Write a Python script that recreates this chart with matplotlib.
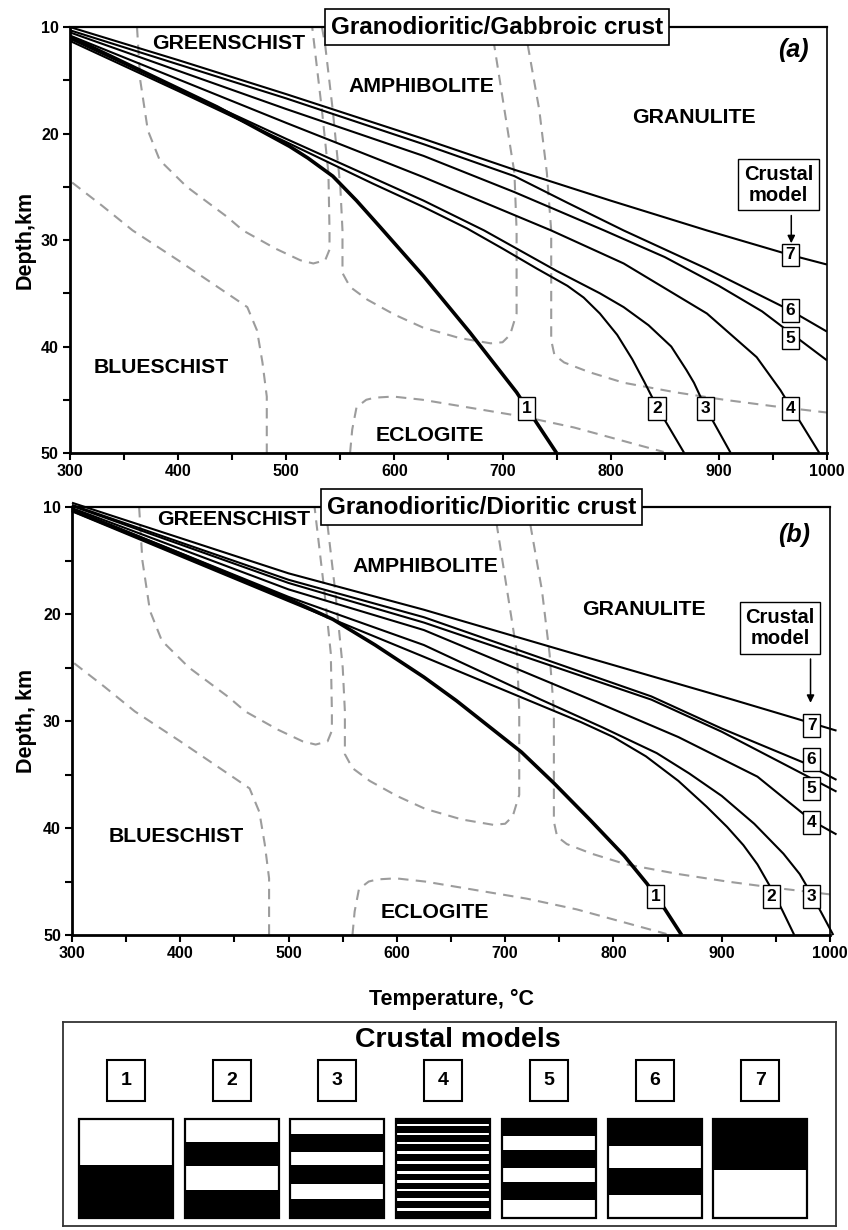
"""
Geotherms for seven crustal models plotted over metamorphic facies fields,
two crust compositions (a, b), plus the crustal model legend below.
"""
import matplotlib
matplotlib.use("Agg")
import matplotlib.pyplot as plt
from matplotlib.patches import Rectangle

plt.rcParams["font.family"] = ["Liberation Sans", "DejaVu Sans"]
plt.rcParams["font.weight"] = "bold"

# --- facies boundaries (T in degC, depth in km), same in both panels --------
GREENSCHIST_T = [362, 365, 372, 383, 408, 445, 460, 490, 513, 525, 536, 540, 540, 539, 533, 524]
GREENSCHIST_D = [10.0, 15.0, 19.7, 22.5, 25.0, 27.8, 29.1, 30.8, 31.9, 32.2, 31.9, 30.9, 29.1, 23.7, 17.8, 10.0]

AMPHIBOLITE_T = [533, 536, 543, 550, 552, 552, 559, 575, 600, 626, 660, 689, 700, 707, 713, 713, 711, 692, 690]
AMPHIBOLITE_D = [10.0, 11.7, 17.8, 25.0, 29.1, 33.1, 34.4, 35.6, 37.0, 38.2, 39.2, 39.7, 39.6, 38.9, 36.9, 29.1, 23.7, 11.5, 10.0]

GRANULITE_T = [721, 723, 734, 741, 745, 745, 748, 757, 780, 812, 860, 905, 950, 1000]
GRANULITE_D = [10.0, 11.5, 17.8, 23.7, 29.1, 39.4, 40.8, 41.5, 42.4, 43.4, 44.3, 45.0, 45.6, 46.2]

ECLOGITE_T = [559, 561, 565, 574, 582, 599, 626, 720, 766, 849]
ECLOGITE_D = [50.0, 47.8, 45.7, 45.0, 44.8, 44.7, 45.0, 46.6, 47.6, 49.9]

BLUESCHIST_T = [302, 330, 358, 400, 451, 464, 473, 478, 482, 482]
BLUESCHIST_D = [24.6, 26.8, 29.1, 31.9, 35.4, 36.3, 38.5, 41.5, 44.7, 50.0]

# --- geotherms, panel (a): granodioritic/gabbroic crust ---------------------
A1_T = [300, 370, 436, 503, 520, 543, 565, 587, 627, 670, 713, 722, 750]
A1_D = [10.9, 14.3, 17.5, 21.2, 22.3, 24.0, 26.3, 28.8, 33.4, 38.7, 44.3, 45.7, 50.0]
A2_T = [300, 400, 500, 580, 627, 667, 700, 732, 760, 775, 790, 806, 820, 831, 843, 868]
A2_D = [11.3, 16.0, 20.8, 24.7, 26.9, 28.9, 30.8, 32.7, 34.3, 35.4, 36.9, 38.9, 41.2, 43.3, 45.7, 50.0]
A3_T = [300, 400, 500, 627, 683, 750, 790, 812, 835, 856, 870, 877, 888, 911]
A3_D = [11.1, 15.8, 20.5, 26.3, 29.1, 32.9, 35.0, 36.3, 38.0, 40.0, 42.2, 43.4, 45.8, 50.0]
A4_T = [300, 400, 500, 627, 745, 812, 889, 935, 957, 966, 976, 993]
A4_D = [10.8, 14.9, 19.0, 24.1, 29.1, 32.2, 36.9, 41.0, 44.1, 45.6, 47.2, 50.0]
A5_T = [300, 400, 500, 627, 711, 794, 850, 900, 940, 966, 1000]
A5_D = [10.5, 14.1, 17.7, 22.1, 25.5, 29.1, 31.6, 34.3, 36.7, 38.7, 41.3]
A6_T = [300, 400, 500, 627, 711, 760, 812, 889, 966, 1000]
A6_D = [10.3, 13.5, 16.7, 21.0, 24.0, 26.5, 29.1, 32.7, 36.6, 38.6]
A7_T = [300, 400, 500, 627, 711, 800, 889, 966, 1000]
A7_D = [10.0, 13.1, 16.3, 20.5, 23.4, 26.3, 29.1, 31.4, 32.3]

# model number boxes sitting on the curves, panel (a)
A_LABEL_T = [722, 843, 888, 966, 966, 966, 966]
A_LABEL_D = [45.8, 45.8, 45.8, 45.8, 39.2, 36.6, 31.4]

# --- geotherms, panel (b): granodioritic/dioritic crust ---------------------
B1_T = [300, 400, 500, 541, 580, 625, 655, 715, 745, 779, 810, 831, 847, 863]
B1_D = [10.3, 14.4, 18.6, 20.5, 22.9, 25.9, 28.1, 32.9, 35.8, 39.3, 42.6, 45.2, 47.5, 50.0]
B2_T = [300, 400, 500, 625, 720, 770, 800, 830, 860, 886, 905, 920, 933, 946, 956, 967]
B2_D = [10.4, 14.6, 18.8, 24.0, 28.0, 30.1, 31.5, 33.3, 35.6, 38.0, 39.9, 41.6, 43.4, 45.7, 47.7, 50.0]
B3_T = [300, 400, 500, 625, 733, 790, 840, 870, 900, 930, 957, 972, 983, 993, 1003]
B3_D = [10.2, 14.3, 18.4, 22.9, 28.0, 30.6, 33.0, 34.9, 37.0, 39.6, 42.4, 44.3, 46.2, 48.1, 50.0]
B4_T = [300, 400, 500, 625, 779, 860, 933, 983, 1006]
B4_D = [10.1, 13.9, 17.7, 21.5, 28.0, 31.5, 35.2, 39.3, 40.6]
B5_T = [300, 400, 500, 625, 835, 900, 976, 1006]
B5_D = [9.9, 13.5, 17.1, 20.8, 28.0, 31.0, 35.0, 36.6]
B6_T = [300, 400, 500, 625, 835, 900, 976, 1006]
B6_D = [9.8, 13.3, 16.8, 20.3, 27.7, 30.7, 33.9, 35.5]
B7_T = [300, 400, 500, 625, 760, 910, 983, 1006]
B7_D = [9.6, 12.9, 16.2, 19.6, 23.6, 28.0, 30.2, 30.9]

B_LABEL_T = [839, 946, 983, 983, 983, 983, 983]
B_LABEL_D = [46.4, 46.4, 46.4, 39.5, 36.3, 33.6, 30.4]

# --- crustal model legend: layer boundaries (fraction of column, top=0) -----
MODEL_NAMES = ["1", "2", "3", "4", "5", "6", "7"]
MODEL_EDGES = [
    [0, 0.47, 1],
    [0, 0.23, 0.48, 0.72, 1],
    [0, 0.155, 0.33, 0.47, 0.655, 0.805, 1],
    [0, 0.048, 0.072, 0.142, 0.166, 0.233, 0.257, 0.327, 0.351, 0.428, 0.452,
     0.528, 0.552, 0.619, 0.643, 0.703, 0.727, 0.803, 0.827, 0.904, 0.928, 1],
    [0, 0.17, 0.31, 0.50, 0.64, 0.82, 1],
    [0, 0.27, 0.50, 0.77, 1],
    [0, 0.52, 1],
]
MODEL_TOP_BLACK = [False, False, False, True, True, True, True]

DASH_COLOR = "#9c9c9c"


def style_axes(ax, ylabel):
    ax.set_xlim(300, 1000)
    ax.set_ylim(50, 10)
    ax.set_xticks(range(300, 1001, 100))
    ax.set_xticks(range(350, 1000, 100), minor=True)
    ax.set_yticks(range(10, 51, 10))
    ax.set_yticks(range(15, 50, 10), minor=True)
    ax.tick_params(which="both", direction="out", length=5, width=1.5,
                   labelsize=11.5, pad=3)
    ax.spines["left"].set_linewidth(2.0)
    ax.spines["bottom"].set_linewidth(2.0)
    ax.spines["top"].set_linewidth(1.6)
    ax.spines["right"].set_linewidth(1.2)
    ax.set_ylabel(ylabel, fontsize=15.5, fontweight="bold", labelpad=4)


def draw_facies(ax):
    kw = dict(color=DASH_COLOR, lw=1.5, ls=(0, (5, 3.5)), zorder=1)
    ax.plot(GREENSCHIST_T, GREENSCHIST_D, **kw)
    ax.plot(AMPHIBOLITE_T, AMPHIBOLITE_D, **kw)
    ax.plot(GRANULITE_T, GRANULITE_D, **kw)
    ax.plot(ECLOGITE_T, ECLOGITE_D, **kw)
    ax.plot(BLUESCHIST_T, BLUESCHIST_D, **kw)


def draw_geotherms(ax, curves, lab_t, lab_d, clip):
    for i, (t, d) in enumerate(curves):
        lw = 2.6 if i == 0 else 1.5
        ax.plot(t, d, color="black", lw=lw, zorder=3, clip_on=clip,
                solid_capstyle="butt", solid_joinstyle="round")
    for i in range(len(lab_t)):
        ax.text(lab_t[i], lab_d[i], MODEL_NAMES[i], ha="center", va="center",
                fontsize=12.5, zorder=6,
                bbox=dict(boxstyle="square,pad=0.22", fc="white", ec="black", lw=1.0))


def draw_labels(ax, pos, title, title_x, tag, box_pos, arrow_x, arrow_d):
    tkw = dict(fontsize=15.3, fontweight="bold", ha="center", va="center", zorder=4)
    ax.text(*pos["GREENSCHIST"], "GREENSCHIST", **tkw)
    ax.text(*pos["AMPHIBOLITE"], "AMPHIBOLITE", **tkw)
    ax.text(*pos["GRANULITE"], "GRANULITE", **tkw)
    ax.text(*pos["BLUESCHIST"], "BLUESCHIST", **tkw)
    ax.text(*pos["ECLOGITE"], "ECLOGITE", **tkw)
    ax.text(*pos["tag"], tag, fontsize=18, fontweight="bold", style="italic",
            ha="center", va="center")
    ax.text(title_x, 1.0, title, transform=ax.transAxes, fontsize=17.5,
            ha="center", va="center", zorder=10, clip_on=False,
            bbox=dict(boxstyle="square,pad=0.25", fc="white", ec="black", lw=1.2))
    ax.text(*box_pos, "Crustal\nmodel", fontsize=14.5, ha="center", va="center",
            linespacing=1.15, zorder=6,
            bbox=dict(boxstyle="square,pad=0.28", fc="white", ec="black", lw=1.0))
    ax.annotate("", xy=(arrow_x, arrow_d[1]), xytext=(arrow_x, arrow_d[0]),
                arrowprops=dict(arrowstyle="-|>", color="black", lw=1.1,
                                mutation_scale=11, shrinkA=0, shrinkB=0),
                zorder=6)


fig = plt.figure(figsize=(8.48, 12.30), dpi=100)

# panel (a)
ax_a = fig.add_axes([0.0825, 0.6317, 0.8927, 0.3463])
style_axes(ax_a, "Depth,km")
draw_facies(ax_a)
curves_a = [(A1_T, A1_D), (A2_T, A2_D), (A3_T, A3_D), (A4_T, A4_D),
            (A5_T, A5_D), (A6_T, A6_D), (A7_T, A7_D)]
draw_geotherms(ax_a, curves_a, A_LABEL_T, A_LABEL_D, clip=True)
draw_labels(ax_a,
            {"GREENSCHIST": (447, 11.5), "AMPHIBOLITE": (625, 15.6),
             "GRANULITE": (877, 18.5), "BLUESCHIST": (384, 42.0),
             "ECLOGITE": (633, 48.4), "tag": (969, 12.2)},
            "Granodioritic/Gabbroic crust", 0.564, "(a)",
            (955, 24.8), 967, (27.7, 30.3))

# panel (b)
ax_b = fig.add_axes([0.0849, 0.2398, 0.8939, 0.3480])
style_axes(ax_b, "Depth, km")
draw_facies(ax_b)
curves_b = [(B1_T, B1_D), (B2_T, B2_D), (B3_T, B3_D), (B4_T, B4_D),
            (B5_T, B5_D), (B6_T, B6_D), (B7_T, B7_D)]
draw_geotherms(ax_b, curves_b, B_LABEL_T, B_LABEL_D, clip=False)
draw_labels(ax_b,
            {"GREENSCHIST": (449, 11.2), "AMPHIBOLITE": (626, 15.6),
             "GRANULITE": (828, 19.6), "BLUESCHIST": (396, 40.8),
             "ECLOGITE": (635, 47.9), "tag": (967, 12.6)},
            "Granodioritic/Dioritic crust", 0.54, "(b)",
            (954, 21.3), 982, (24.2, 28.3))
ax_b.set_xlabel("Temperature, °C", fontsize=15.5, fontweight="bold", labelpad=20)

# crustal model legend, drawn in pixel-like units inside its frame
ax_l = fig.add_axes([0.0743, 0.0033, 0.9116, 0.1659])
ax_l.set_xlim(0, 773)
ax_l.set_ylim(204, 0)
ax_l.set_xticks([])
ax_l.set_yticks([])
for sp in ax_l.spines.values():
    sp.set_linewidth(1.3)
    sp.set_edgecolor("#333333")
ax_l.text(395, 18, "Crustal models", fontsize=20.5, ha="center", va="center")

col_w, col_h, col_top = 94, 99, 97
num_w, num_h, num_y = 38, 41, 59
for i, name in enumerate(MODEL_NAMES):
    cx = 63 + 105.7 * i
    ax_l.add_patch(Rectangle((cx - num_w / 2, num_y - num_h / 2), num_w, num_h,
                             fc="white", ec="black", lw=1.5))
    ax_l.text(cx, num_y, name, fontsize=14, ha="center", va="center")
    edges = MODEL_EDGES[i]
    black = MODEL_TOP_BLACK[i]
    for j in range(len(edges) - 1):
        y0 = col_top + edges[j] * col_h
        h = (edges[j + 1] - edges[j]) * col_h
        ax_l.add_patch(Rectangle((cx - col_w / 2, y0), col_w, h,
                                 fc="black" if black else "white", ec="none"))
        black = not black
    ax_l.add_patch(Rectangle((cx - col_w / 2, col_top), col_w, col_h,
                             fc="none", ec="black", lw=1.6))

fig.savefig("out.png", dpi=100)
